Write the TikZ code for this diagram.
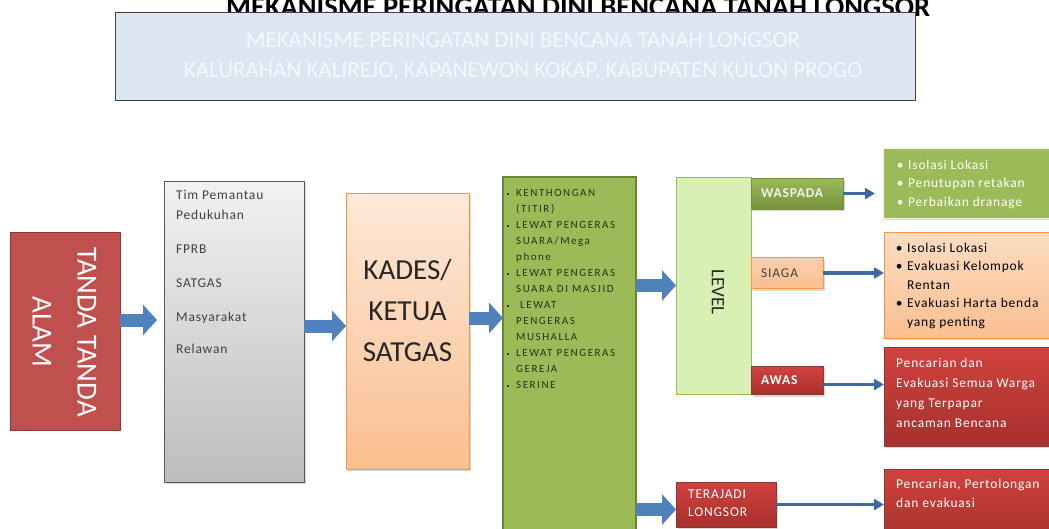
\documentclass[tikz,border=0pt]{standalone}
\usepackage{fontspec}
\setmainfont{Carlito}
\newfontfamily\spacedfont{Carlito}[LetterSpace=6]
\newfontfamily\widefont{Carlito}[LetterSpace=14]
\usetikzlibrary{arrows.meta,shadows}
\definecolor{titlefill}{HTML}{DCE6F2}
\definecolor{titleline}{HTML}{404040}
\definecolor{titleink}{HTML}{F4F7FB}
\definecolor{redfill}{HTML}{C0504D}
\definecolor{redline}{HTML}{8C3836}
\definecolor{redtop}{HTML}{D0423E}
\definecolor{redbot}{HTML}{A8302D}
\definecolor{greytop}{HTML}{F2F2F2}
\definecolor{greybot}{HTML}{BCBCBC}
\definecolor{greyline}{HTML}{595959}
\definecolor{greyink}{HTML}{404040}
\definecolor{peachtop}{HTML}{FDE9D9}
\definecolor{peachbot}{HTML}{FABF8F}
\definecolor{orangeline}{HTML}{F79646}
\definecolor{olive}{HTML}{9BBB59}
\definecolor{oliveline}{HTML}{6B8535}
\definecolor{olivedark}{HTML}{76923C}
\definecolor{oliveink}{HTML}{2A3314}
\definecolor{levelfill}{HTML}{D8F0B4}
\definecolor{arrowblue}{HTML}{4F81BD}
\definecolor{thinblue}{HTML}{3F6A9E}
\definecolor{inktext}{HTML}{262626}
\newcommand{\sqb}{\llap{\rule[1.5pt]{2.4pt}{2.4pt}\hspace{7pt}}}
\newcommand{\rdot}{\llap{•\hspace{4.5pt}}}
\begin{document}
\begin{tikzpicture}[x=1pt,y=-1pt,
  plainbox/.style={draw, rectangle, inner sep=0pt, outer sep=0pt},
  boxshadow/.style={drop shadow={opacity=0.3, shadow xshift=2pt, shadow yshift=-2pt}},
  listtext/.style={anchor=north west, align=left, inner sep=0pt},
  blockarrow/.style={line width=13pt, color=arrowblue, -{Triangle[length=14pt,width=30pt]}},
  thinarrow/.style={line width=3.5pt, color=thinblue, -{Triangle[length=10pt,width=11pt]}},
  redbox/.style={plainbox, top color=redtop, bottom color=redbot, draw=redline, boxshadow},
  tag/.style={anchor=west, inner sep=0pt}]
\useasboundingbox (0,0) rectangle (1049,528);
\clip (0,0) rectangle (1049,528);
\fill[white] (0,0) rectangle (1049,528);

% heading behind the title panel
\node[anchor=base west, inner sep=0pt, font=\bfseries\fontsize{28.5}{28}\selectfont] (hiddenhead) at (226,16)
  {MEKANISME PERINGATAN DINI BENCANA TANAH LONGSOR};

% title panel
\node[plainbox, fill=titlefill, draw=titleline, minimum width=800pt, minimum height=88pt] (title) at (515,56) {};
\node[align=center, text=titleink, font=\fontsize{23}{30}\selectfont] (titletext) at (523,57)
  {MEKANISME PERINGATAN DINI BENCANA TANAH LONGSOR\\KALURAHAN KALIREJO, KAPANEWON KOKAP, KABUPATEN KULON PROGO};

% natural signs
\node[plainbox, fill=redfill, draw=redline, line width=1pt, minimum width=110pt, minimum height=198pt] (tanda) at (65,331) {};
\node[rotate=-90, align=center, text=white, font=\fontsize{29}{45}\selectfont] (tandatext) at (64.5,332) {TANDA TANDA\\ALAM};

% observers
\node[plainbox, top color=greytop, bottom color=greybot, draw=greyline, line width=1pt, minimum width=140pt, minimum height=301pt, boxshadow] (agents) at (234,331.5) {};
\node[listtext, text=greyink, font=\spacedfont\fontsize{13.5}{20}\selectfont] (agentlist) at (176,190.5)
  {Tim Pemantau\\Pedukuhan\\[14pt]FPRB\\[14pt]SATGAS\\[14pt]Masyarakat\\[12pt]Relawan};

% village head
\node[plainbox, top color=peachtop, bottom color=peachbot, draw=orangeline, line width=1pt, minimum width=123pt, minimum height=276pt, boxshadow] (kades) at (407.5,331) {};
\node[align=center, text=inktext, font=\fontsize{29}{41}\selectfont] (kadestext) at (407.5,311) {KADES/\\KETUA\\SATGAS};

% warning channels
\node[plainbox, fill=olive, draw=oliveline, line width=1.5pt, minimum width=133pt, minimum height=363pt] (channels) at (569.5,358.5) {};
\node[listtext, text=oliveink, font=\widefont\fontsize{11}{16}\selectfont] (channellist) at (516,189.5)
  {\sqb KENTHONGAN\\(TITIR)\\\sqb LEWAT PENGERAS\\SUARA/Mega\\phone\\\sqb LEWAT PENGERAS\\SUARA DI MASJID\\\sqb\ LEWAT\\PENGERAS\\MUSHALLA\\\sqb LEWAT PENGERAS\\GEREJA\\\sqb SERINE};

% level column
\node[plainbox, fill=levelfill, draw=olive, line width=1pt, minimum width=75pt, minimum height=217pt] (level) at (713.5,285.5) {};
\node[rotate=-90, text=inktext, font=\fontsize{19}{20}\selectfont] (leveltext) at (718,292) {LEVEL};

% level tags
\node[plainbox, top color=olive, bottom color=olivedark, draw=olivedark, minimum width=92pt, minimum height=31pt, boxshadow] (waspada) at (797,193.5) {};
\node[tag, text=greytop, font=\spacedfont\bfseries\fontsize{13.5}{16}\selectfont] (waspadatext) at ([xshift=10pt]waspada.west) {WASPADA};
\node[plainbox, top color=peachbot!60!peachtop, bottom color=peachbot, draw=orangeline, minimum width=72pt, minimum height=31pt, boxshadow] (siaga) at (787,273) {};
\node[tag, text=greyink, font=\spacedfont\fontsize{13.5}{16}\selectfont] (siagatext) at ([xshift=10pt]siaga.west) {SIAGA};
\node[redbox, minimum width=72pt, minimum height=28pt] (awas) at (787,380.5) {};
\node[tag, text=white, font=\spacedfont\bfseries\fontsize{13.5}{16}\selectfont] (awastext) at ([xshift=10pt]awas.west) {AWAS};
\node[redbox, minimum width=100pt, minimum height=45pt] (terjadi) at (726,504.5) {};
\node[tag, align=left, text=white, font=\spacedfont\fontsize{13.5}{18}\selectfont] (terjaditext) at ([xshift=12pt,yshift=1pt]terjadi.west) {TERAJADI\\LONGSOR};

% actions
\node[plainbox, fill=olive, draw=white!85!olive, minimum width=172pt, minimum height=70pt, boxshadow] (actw) at (969,183) {};
\node[listtext, text=white, font=\spacedfont\fontsize{13.5}{18.5}\selectfont] (actwtext) at (908,159.5)
  {\rdot Isolasi Lokasi\\\rdot Penutupan retakan\\\rdot Perbaikan dranage};
\node[plainbox, top color=peachtop!70!peachbot, bottom color=peachbot, draw=orangeline, minimum width=172pt, minimum height=106pt, boxshadow] (acts) at (970,285) {};
\node[listtext, text=black, font=\spacedfont\fontsize{13.5}{18.5}\selectfont] (actstext) at (907,242.5)
  {\rdot Isolasi Lokasi\\\rdot Evakuasi Kelompok\\Rentan\\\rdot Evakuasi Harta benda\\yang penting};
\node[redbox, minimum width=172pt, minimum height=99pt] (acta) at (970,396.5) {};
\node[listtext, text=white, font=\spacedfont\fontsize{13.5}{20.3}\selectfont] (actatext) at (896,357.5)
  {Pencarian dan\\Evakuasi Semua Warga\\yang Terpapar\\ancaman Bencana};
\node[redbox, minimum width=172pt, minimum height=71pt] (actt) at (970,504.5) {};
\node[listtext, text=white, font=\spacedfont\fontsize{13.5}{19}\selectfont] (actttext) at (896,478.5)
  {Pencarian, Pertolongan\\dan evakuasi};

% flow arrows
\draw[blockarrow, shorten >=7pt] ([yshift=11pt]tanda.east) -- ([yshift=11pt]agents.west |- tanda.east);
\draw[blockarrow] ([yshift=5.5pt]agents.east) -- ([yshift=5.5pt]kades.west |- agents.east);
\draw[blockarrow] ([yshift=13pt]kades.east) -- ([yshift=13pt]channels.west |- kades.east);
\draw[blockarrow] (channels.east |- level.west) -- (level.west);
\draw[blockarrow] ([yshift=-5pt]channels.east |- terjadi.west) -- ([yshift=-5pt]terjadi.west);

\draw[thinarrow, shorten >=8pt] (waspada.east) -- (actw.west |- waspada.east);
\draw[thinarrow] (siaga.east) -- (acts.west |- siaga.east);
\draw[thinarrow] ([yshift=-4pt]awas.east) -- ([yshift=-4pt]acta.west |- awas.east);
\draw[thinarrow] (terjadi.east) -- (actt.west |- terjadi.east);
\end{tikzpicture}
\end{document}
